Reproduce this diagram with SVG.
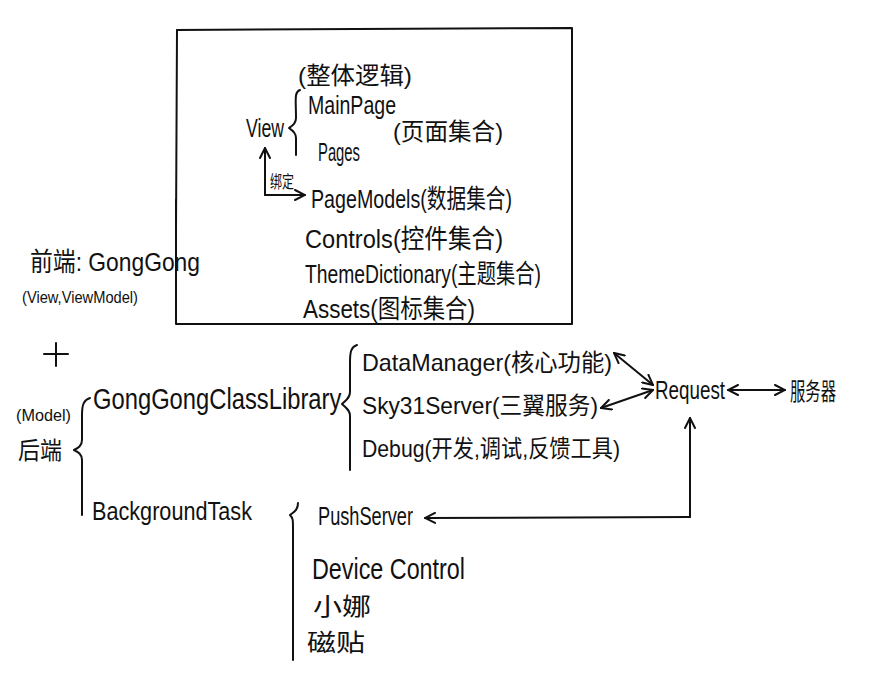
<svg xmlns="http://www.w3.org/2000/svg" width="887" height="694" viewBox="0 0 887 694">
<defs>
<style>
text{font-family:"Liberation Sans","Noto Sans CJK SC",sans-serif;fill:#111;}
.t{font-size:24px;}
.m{font-size:26px;}
.s{font-size:17px;}
.l{font-size:29px;}
.ln{fill:none;stroke:#111;stroke-width:2;stroke-linecap:round;stroke-linejoin:round;}
</style>
<marker id="ah" viewBox="0 0 12 12" refX="11" refY="6" markerWidth="12" markerHeight="12" markerUnits="userSpaceOnUse" orient="auto-start-reverse">
<path d="M1,1 L11,6 L1,11" fill="none" stroke="#111" stroke-width="2" stroke-linecap="round"/>
</marker>
</defs>
<rect width="887" height="694" fill="#fff"/>

<g id="frontend-box">
<path class="ln" d="M177,30 L572,28 L572,324 L176,324 L176,200"/>
<path class="ln" d="M177,30 L176,230"/>
<text class="t" x="298" y="84" textLength="114" lengthAdjust="spacingAndGlyphs">(整体逻辑)</text>
<path class="ln" d="M300,90 C294,92 296,100 296,118 C296,124 292,126 289,128 C292,130 296,132 296,138 L296,155"/>
</g>

<g id="view">
<text class="m" x="246" y="137" textLength="38" lengthAdjust="spacingAndGlyphs">View</text>
</g>
<g id="mainpage">
<text class="m" x="308" y="114" textLength="88" lengthAdjust="spacingAndGlyphs">MainPage</text>
</g>
<g id="pages-label">
<text class="t" x="393" y="140" textLength="110" lengthAdjust="spacingAndGlyphs">(页面集合)</text>
</g>
<g id="pages">
<text class="m" x="318" y="161" textLength="42" lengthAdjust="spacingAndGlyphs">Pages</text>
</g>
<g id="pagemodels">
<text class="m" x="311" y="208" textLength="201" lengthAdjust="spacingAndGlyphs">PageModels(数据集合)</text>
</g>
<g id="controls">
<text class="m" x="305" y="248" textLength="198" lengthAdjust="spacingAndGlyphs">Controls(控件集合)</text>
</g>
<g id="themedictionary">
<text class="m" x="305" y="283" textLength="236" lengthAdjust="spacingAndGlyphs">ThemeDictionary(主题集合)</text>
</g>
<g id="assets">
<text class="m" x="303" y="318" textLength="172" lengthAdjust="spacingAndGlyphs">Assets(图标集合)</text>
</g>

<g id="frontend">
<text class="m" x="30" y="271" textLength="170" lengthAdjust="spacingAndGlyphs">前端: GongGong</text>
<text class="s" x="22" y="303" textLength="116" lengthAdjust="spacingAndGlyphs">(View,ViewModel)</text>
</g>

<g id="plus">
<path class="ln" d="M44,354 L68,354 M56,343 L56,366"/>
</g>

<g id="backend">
<text class="s" x="16" y="421" textLength="55" lengthAdjust="spacingAndGlyphs">(Model)</text>
<text class="t" x="18" y="459" textLength="44" lengthAdjust="spacingAndGlyphs">后端</text>
<path class="ln" d="M90,398 C84,400 82,404 82,415 L82,440 C82,446 78,448 74,450 C78,452 82,454 82,460 L82,515"/>
</g>

<g id="classlibrary">
<text class="l" transform="translate(93,409) scale(0.82,1)" x="0" y="0">GongGongClassLibrary</text>
<path class="ln" d="M357,345 C351,347 350,352 350,362 L350,392 C350,398 346,400 342,404 C346,408 350,410 350,416 L350,470"/>
</g>

<g id="datamanager">
<text class="t" x="362" y="371" textLength="250" lengthAdjust="spacingAndGlyphs">DataManager(核心功能)</text>
</g>
<g id="sky31server">
<text class="t" x="362" y="414" textLength="236" lengthAdjust="spacingAndGlyphs">Sky31Server(三翼服务)</text>
</g>
<g id="debug">
<text class="t" x="362" y="457" textLength="258" lengthAdjust="spacingAndGlyphs">Debug(开发,调试,反馈工具)</text>
</g>

<g id="request">
<text class="m" x="655" y="399" textLength="70" lengthAdjust="spacingAndGlyphs">Request</text>
</g>
<g id="server">
<text class="t" x="790" y="400" textLength="46" lengthAdjust="spacingAndGlyphs">服务器</text>
</g>

<g id="backgroundtask">
<text class="m" x="92" y="520" textLength="160" lengthAdjust="spacingAndGlyphs">BackgroundTask</text>
<path class="ln" d="M298,503 C298,510 294,512 290,515 C293,518 293,520 293,528 L293,660"/>
</g>

<g id="pushserver">
<text class="m" x="318" y="525" textLength="95" lengthAdjust="spacingAndGlyphs">PushServer</text>
</g>
<g id="devicecontrol">
<text class="l" x="312" y="579" textLength="153" lengthAdjust="spacingAndGlyphs">Device Control</text>
</g>
<g id="xiaona">
<text class="t" x="313" y="615" textLength="58" lengthAdjust="spacingAndGlyphs">小娜</text>
</g>
<g id="tile">
<text class="t" x="307" y="651" textLength="58" lengthAdjust="spacingAndGlyphs">磁贴</text>
</g>

<g id="connectors">
<path class="ln" d="M265,195 L265,148" marker-end="url(#ah)"/>
<path class="ln" d="M265,195 L305,195" marker-end="url(#ah)"/>
<text class="s" x="270" y="188" textLength="24" lengthAdjust="spacingAndGlyphs">绑定</text>
<path class="ln" d="M614,353 L653,385" marker-start="url(#ah)" marker-end="url(#ah)"/>
<path class="ln" d="M601,408 L653,390" marker-start="url(#ah)" marker-end="url(#ah)"/>
<path class="ln" d="M728,390 L785,390" marker-start="url(#ah)" marker-end="url(#ah)"/>
<path class="ln" d="M690,517 L690,418" marker-end="url(#ah)"/>
<path class="ln" d="M690,517 L425,518" marker-end="url(#ah)"/>
</g>
</svg>
